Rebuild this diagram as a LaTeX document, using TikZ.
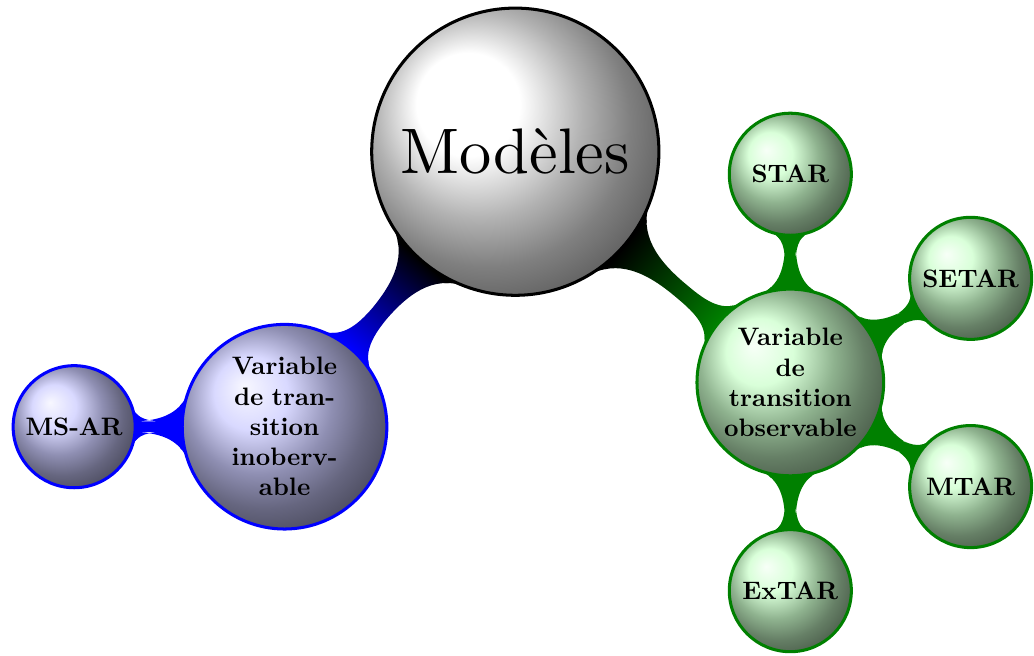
\documentclass[tikz,border=0pt]{standalone}
\usepackage{graphicx}
\usetikzlibrary{mindmap, shadings, calc, backgrounds}

\begin{document}
\begin{tikzpicture}[
    mindmap,
    root/.style={
        concept,
        draw=black,
        very thick,
        ball color=white,
        minimum size=4cm,
        text width=3.8cm,
        align=center,
        font=\normalfont\normalsize
    },
    hidden/.style={
        concept,
        draw=blue,
        very thick,
        ball color=blue!20,
        minimum size=2.85cm,
        text width=1.9cm,
        inner sep=1pt,
        align=center,
        font=\normalsize\bfseries
    },
    observed/.style={
        concept,
        draw=green!50!black,
        very thick,
        ball color=green!20,
        minimum size=2.6cm,
        text width=1.9cm,
        inner sep=1pt,
        align=center,
        font=\normalsize\bfseries
    },
    leaf/.style={
        minimum size=1.7cm,
        text width=1.45cm
    }
]
\useasboundingbox (-7.177,-7.01) rectangle (7.224,2.113);

% Root
\node[root] (models) at (0,0) {\scalebox{2.55}{Modèles}};

% Unobserved transition variable
\node[hidden] (hidden) at (230:5cm) {Variable de transition inobervable};
\node[hidden, leaf] (msar) at ($(hidden)+(180:2.93cm)$) {MS-AR};

% Observed transition variable
\node[observed] (observed) at (-40:5cm) {Variable\\de\\transition\\observable};
\node[observed, leaf] (star) at ($(observed)+(90:2.9cm)$) {STAR};
\node[observed, leaf] (setar) at ($(observed)+(30:2.9cm)$) {SETAR};
\node[observed, leaf] (mtar) at ($(observed)+(-30:2.9cm)$) {MTAR};
\node[observed, leaf] (extar) at ($(observed)+(-90:2.9cm)$) {ExTAR};

% Connections
\begin{pgfonlayer}{background}
\path (models) to[circle connection bar switch color=from (black) to (blue)] (hidden);
\path (hidden) to[circle connection bar switch color=from (blue) to (blue)] (msar);
\path (models) to[circle connection bar switch color=from (black) to (green!50!black)] (observed);
\path (observed) to[circle connection bar switch color=from (green!50!black) to (green!50!black)] (star);
\path (observed) to[circle connection bar switch color=from (green!50!black) to (green!50!black)] (setar);
\path (observed) to[circle connection bar switch color=from (green!50!black) to (green!50!black)] (mtar);
\path (observed) to[circle connection bar switch color=from (green!50!black) to (green!50!black)] (extar);
\end{pgfonlayer}

\end{tikzpicture}
\end{document}
